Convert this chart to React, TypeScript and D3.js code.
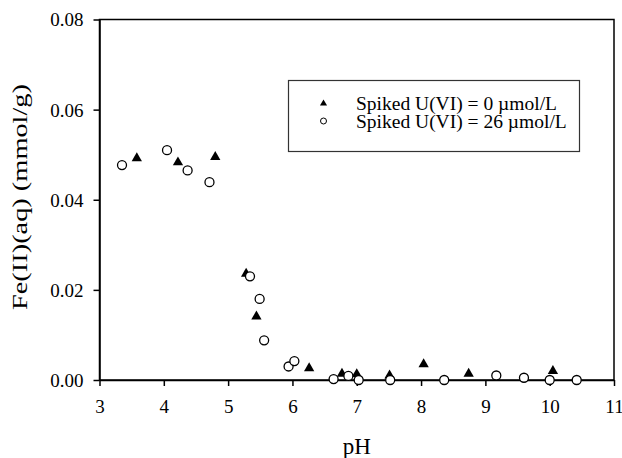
import React, { useRef, useEffect } from 'react'
import * as d3 from 'd3'

// Spiked U(VI) = 0 umol/L (triangles)
const phNoU = [3.58, 4.22, 4.8, 5.28, 5.44, 6.26, 6.77, 7.0, 7.51, 8.04, 8.74, 10.05]
const feNoU = [0.0492, 0.0483, 0.0495, 0.0236, 0.0141, 0.0026, 0.0014, 0.0013, 0.001, 0.0035, 0.0014, 0.002]

// Spiked U(VI) = 26 umol/L (circles)
const phU = [3.35, 4.05, 4.37, 4.71, 5.34, 5.49, 5.56, 5.94, 6.03, 6.64, 6.87, 7.03, 7.52, 8.36, 9.17, 9.6, 10.0, 10.42]
const feU = [0.0477, 0.051, 0.0465, 0.0439, 0.023, 0.018, 0.0088, 0.003, 0.0042, 0.0002, 0.0009, 0.0, 0.0, 0.0, 0.001, 0.0005, 0.0, 0.0]

const xTicks = [3, 4, 5, 6, 7, 8, 9, 10, 11]
const yTicks = [0, 0.02, 0.04, 0.06, 0.08]
const legendLabels = ['Spiked U(VI) = 0 \u00b5mol/L', 'Spiked U(VI) = 26 \u00b5mol/L']

const W = 622
const H = 458
const m = { left: 99.5, right: 614, top: 19.5, bottom: 380 }
const FONT = '"Liberation Serif", "Times New Roman", serif'

const Chart = () => {
  const svgRef = useRef(null)

  useEffect(() => {
    const svg = d3.select(svgRef.current)
    svg.selectAll('*').remove()

    const x = d3.scaleLinear().domain([3, 11]).range([m.left, m.right])
    const y = d3.scaleLinear().domain([0, 0.08]).range([m.bottom, m.top])

    // frame
    svg
      .append('rect')
      .attr('x', m.left)
      .attr('y', m.top)
      .attr('width', m.right - m.left)
      .attr('height', m.bottom - m.top)
      .attr('fill', 'none')
      .attr('stroke', '#000')
      .attr('stroke-width', 1.5)

    const xAxis = svg
      .append('g')
      .attr('transform', `translate(0,${m.bottom})`)
      .call(d3.axisBottom(x).tickValues(xTicks).tickFormat(d3.format('d')).tickSize(6).tickSizeOuter(0))
    const yAxis = svg
      .append('g')
      .attr('transform', `translate(${m.left},0)`)
      .call(d3.axisLeft(y).tickValues(yTicks).tickFormat(d3.format('.2f')).tickSize(6).tickSizeOuter(0))

    for (const g of [xAxis, yAxis]) {
      g.select('.domain').attr('stroke-width', 1.5)
      g.selectAll('line').attr('stroke-width', 1.5)
      g.selectAll('text').attr('font-family', FONT).attr('font-size', 19).attr('fill', '#000')
    }
    xAxis.selectAll('text').attr('dy', null).attr('y', 33)
    yAxis.selectAll('text').attr('x', -16).attr('dy', '0.34em')

    const tri = d3.symbol().type(d3.symbolTriangle).size(46)
    svg
      .append('g')
      .selectAll('path')
      .data(phNoU)
      .join('path')
      .attr('d', tri)
      .attr('transform', (d, i) => `translate(${x(d)},${y(feNoU[i])})`)
      .attr('fill', '#000')

    svg
      .append('g')
      .selectAll('circle')
      .data(phU)
      .join('circle')
      .attr('cx', (d) => x(d))
      .attr('cy', (d, i) => y(feU[i]))
      .attr('r', 4.5)
      .attr('fill', '#fff')
      .attr('stroke', '#000')
      .attr('stroke-width', 1.3)

    // axis titles
    svg
      .append('text')
      .attr('x', (m.left + m.right) / 2)
      .attr('y', 454)
      .attr('text-anchor', 'middle')
      .attr('font-family', FONT)
      .attr('font-size', 23)
      .text('pH')

    svg
      .append('text')
      .attr('transform', `translate(27,${197}) rotate(-90)`)
      .attr('text-anchor', 'middle')
      .attr('font-family', FONT)
      .attr('font-size', 21)
      .attr('textLength', 226)
      .attr('lengthAdjust', 'spacingAndGlyphs')
      .text('Fe(II)(aq) (mmol/g)')

    // legend
    const lg = svg.append('g')
    lg.append('rect')
      .attr('x', 288.5)
      .attr('y', 80.5)
      .attr('width', 291)
      .attr('height', 71)
      .attr('fill', '#fff')
      .attr('stroke', '#333')
      .attr('stroke-width', 1.2)
    lg.append('path')
      .attr('d', d3.symbol().type(d3.symbolTriangle).size(22)())
      .attr('transform', 'translate(323.5,103.5)')
      .attr('fill', '#000')
    lg.append('circle')
      .attr('cx', 323.5)
      .attr('cy', 121)
      .attr('r', 3)
      .attr('fill', '#fff')
      .attr('stroke', '#000')
      .attr('stroke-width', 1)
    lg.selectAll('text.lab')
      .data(legendLabels)
      .join('text')
      .attr('class', 'lab')
      .attr('x', 356)
      .attr('y', (d, i) => 110 + i * 18)
      .attr('font-family', FONT)
      .attr('font-size', 19.5)
      .text((d) => d)
  }, [])

  return <svg ref={svgRef} width={W} height={H} style={{ position: 'absolute', left: 0, top: 0, background: '#fff' }} />
}

export default function App() {
  return <Chart />
}
